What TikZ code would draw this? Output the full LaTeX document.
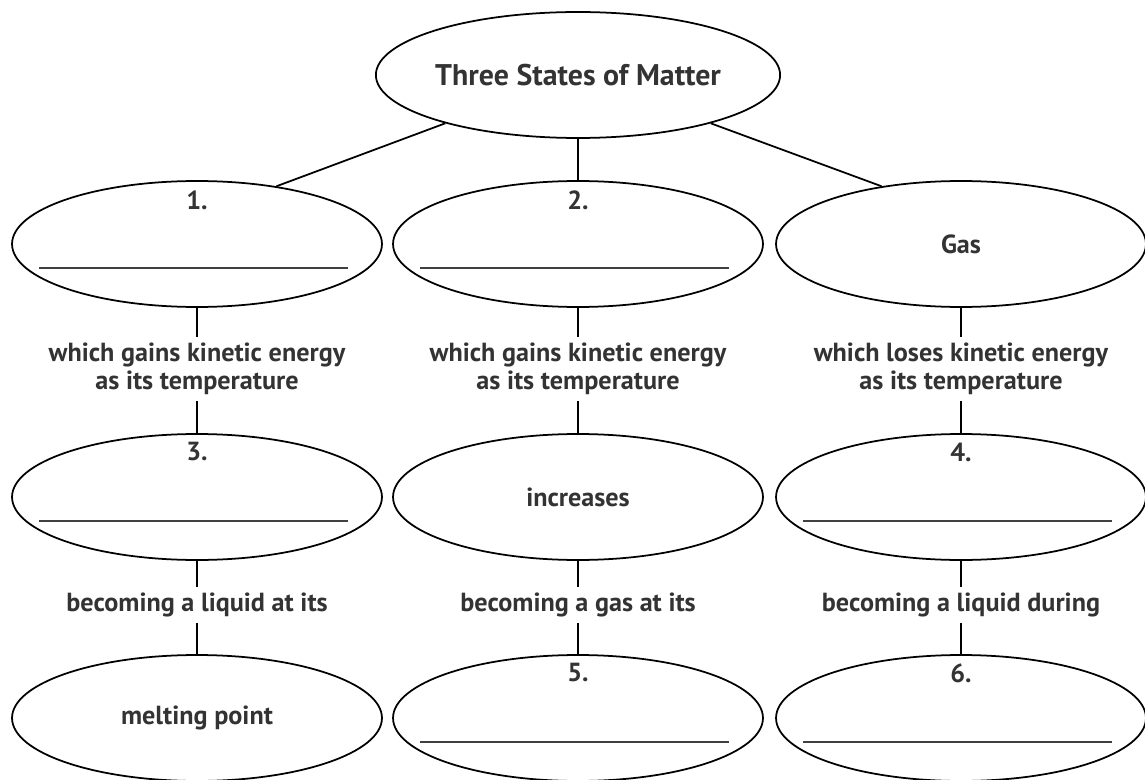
\documentclass[tikz,border=0pt]{standalone}
\usepackage{fontspec}
\setmainfont{PT Sans}
\usetikzlibrary{shapes.geometric}

\begin{document}
\begin{tikzpicture}
  [
    x = 0.02cm, y = -0.02cm,
    line width        = 1pt,
    every node/.style = {font=\fontsize{14.9}{16}\selectfont\bfseries, text=black!80},
    state/.style      = {draw, ellipse, inner sep=0pt,
                         minimum width=7.4cm, minimum height=2.52cm},
    link/.style       = {align=center, inner sep=3pt},
    blank/.style      = {draw, line width=0.7pt, black!75}
  ]
 \useasboundingbox (0,0) rectangle (1145,780);
 \node[state, font=\fontsize{17}{20}\selectfont\bfseries] (matter) at (578,75) {Three States of Matter};
 % first row
 \node[state] (st1) at (197,244) {};
 \node[state] (st2) at (578,244) {};
 \node[state] (gas) at (961,244) {Gas};
 \node[link] (w1) at (197,369) {which gains kinetic energy\\as its temperature};
 \node[link] (w2) at (578,369) {which gains kinetic energy\\as its temperature};
 \node[link] (w3) at (961,369) {which loses kinetic energy\\as its temperature};
 % second row
 \node[state] (tp3) at (197,497) {};
 \node[state] (inc) at (578,497) {increases};
 \node[state] (tp4) at (961,497) {};
 \node[link] (b1) at (197,605) {becoming a liquid at its};
 \node[link] (b2) at (578,605) {becoming a gas at its};
 \node[link] (b3) at (961,605) {becoming a liquid during};
 % third row
 \node[state] (melt) at (197,718) {melting point};
 \node[state] (pt5) at (578,718) {};
 \node[state] (pt6) at (961,718) {};
 % numbers
 \node at (197,200) {1.};
 \node at (578,200) {2.};
 \node at (197,452) {3.};
 \node at (961,452) {4.};
 \node at (578,673) {5.};
 \node at (961,673) {6.};
 \foreach \s in {st1,st2,tp3,tp4,pt5,pt6}
   \draw[blank] ([shift={(-158,24)}]\s.center) -- ([shift={(151,24)}]\s.center);
 % connectors
 \draw (matter.200) -- (st1.36);
 \draw (matter) -- (st2);
 \draw (matter.-20) -- (gas.144);
 \draw (st1) -- (w1) -- (tp3) -- (b1) -- (melt);
 \draw (st2) -- (w2) -- (inc) -- (b2) -- (pt5);
 \draw (gas) -- (w3) -- (tp4) -- (b3) -- (pt6);
\end{tikzpicture}
\end{document}
